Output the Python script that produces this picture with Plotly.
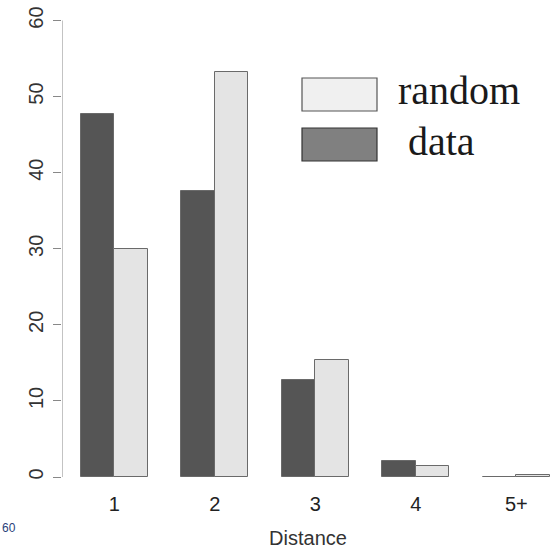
import plotly.graph_objects as go

# ---- data ----
categories = ["1", "2", "3", "4", "5+"]
data_values = [47.7, 37.6, 12.8, 2.1, 0.0]
random_values = [30.0, 53.2, 15.4, 1.4, 0.2]
y_ticks = [0, 10, 20, 30, 40, 50, 60]
legend_labels = ["random", " data"]

# ---- geometry (R barplot beside=TRUE, space=c(0,1)) ----
W, H = 554, 549
ML, MR, MT, MB = 62, 0, 2, 64
idx = list(range(len(categories)))
x_data = [3 * i + 1.5 for i in idx]
x_rand = [3 * i + 2.5 for i in idx]
x_centers = [3 * i + 2 for i in idx]

ppu_y = (477 - 20.5) / 60.0
y_top = 60 + (20.5 - MT) / ppu_y
y_bot = y_top - (H - MT - MB) / ppu_y
ppu_x = 33.5
x_left = 1 - (80.8 - ML) / ppu_x
x_right = x_left + (W - ML - MR) / ppu_x

DARK = "#555555"
LIGHT = "#e4e4e4"
EDGE = "#6a6a6a"

fig = go.Figure()
fig.add_trace(go.Bar(x=x_data, y=data_values, width=1.0, name="data",
                     marker=dict(color=DARK, line=dict(color=EDGE, width=1)),
                     showlegend=False))
fig.add_trace(go.Bar(x=x_rand, y=random_values, width=1.0, name="random",
                     marker=dict(color=LIGHT, line=dict(color=EDGE, width=1)),
                     showlegend=False))

# y axis line from 0 to 60 like R's axis()
fig.add_shape(type="line", xref="x", yref="y", x0=x_left, x1=x_left,
              y0=y_ticks[0], y1=y_ticks[-1], line=dict(color="#888888", width=1))


def px2paper(px, py):
    return ((px - ML) / (W - ML - MR), (H - MB - py) / (H - MT - MB))


# legend drawn as boxes + serif text
def box(x0, y0, x1, y1, fill, edge):
    a = px2paper(x0, y1)
    b = px2paper(x1, y0)
    fig.add_shape(type="rect", xref="paper", yref="paper",
                  x0=a[0], y0=a[1], x1=b[0], y1=b[1],
                  fillcolor=fill, line=dict(color=edge, width=1.2))


box(302, 78, 377, 111, "#f0f0f0", "#555555")
box(302, 128, 377, 161, "#808080", "#333333")

for label, (tx, ty) in zip(legend_labels, [(396, 91), (396, 141)]):
    p = px2paper(tx, ty)
    fig.add_annotation(xref="paper", yref="paper", x=p[0], y=p[1],
                       text=label.replace(" ", "&nbsp;"), showarrow=False,
                       xanchor="left", yanchor="middle",
                       font=dict(family="Liberation Serif", size=40, color="#1a1a1a"))

# stray page-number text at bottom left
p = px2paper(9, 528)
fig.add_annotation(xref="paper", yref="paper", x=p[0], y=p[1], text="60",
                   showarrow=False, xanchor="center", yanchor="middle",
                   font=dict(family="Liberation Sans", size=12, color="#2a3f7a"))

fig.update_layout(
    width=W, height=H,
    margin=dict(l=ML, r=MR, t=MT, b=MB, pad=0),
    paper_bgcolor="white", plot_bgcolor="white",
    bargap=0, barmode="overlay",
    font=dict(family="Liberation Sans", color="#222222"),
    xaxis=dict(range=[x_left, x_right], tickmode="array", tickvals=x_centers,
               ticktext=categories, showgrid=False, zeroline=False, showline=False,
               ticks="", ticklabelstandoff=5, tickfont=dict(size=20, color="#222222"),
               title=dict(text="Distance", font=dict(size=20, color="#333333"), standoff=16)),
    yaxis=dict(range=[y_bot, y_top], tickmode="array", tickvals=y_ticks,
               ticktext=[str(v) for v in y_ticks], tickangle=-90,
               showgrid=False, zeroline=False, showline=False,
               ticks="outside", ticklen=8, tickcolor="#888888", tickwidth=1,
               ticklabelstandoff=2,
               tickfont=dict(size=20, color="#333333")),
)

fig.write_html("out.html")
